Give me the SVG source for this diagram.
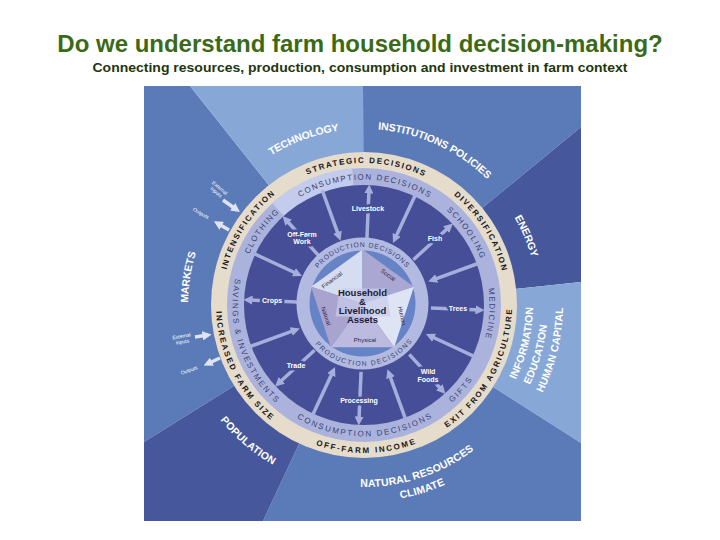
<svg xmlns="http://www.w3.org/2000/svg" width="720" height="540" viewBox="0 0 720 540">
<style>
text { font-family: "Liberation Sans", Arial, sans-serif; }
.title { font-size: 24px; font-weight: bold; fill: #3b6a17; }
.sub { font-size: 12.5px; font-weight: bold; fill: #22360e; }
.mid { fill: #5b7ab8; }
.light { fill: #87a7d6; }
.dark { fill: #46579b; }
.outer { font-size: 10.5px; font-weight: bold; fill: #ffffff; dominant-baseline: central; }
.beige { font-size: 8px; font-weight: bold; fill: #161616; letter-spacing: 1.7px; dominant-baseline: central; }
.cons { font-size: 8px; fill: #3a4274; letter-spacing: 1.6px; dominant-baseline: central; }
.prod { font-size: 6.8px; fill: #3a4274; letter-spacing: 1.1px; dominant-baseline: central; }
.lbl { font-size: 7px; font-weight: bold; fill: #ffffff; text-anchor: middle; stroke: #454e96; stroke-width: 5px; stroke-linejoin: round; paint-order: stroke; }
.asset { font-size: 6px; fill: #27284a; text-anchor: middle; dominant-baseline: central; }
.hh { font-size: 9.5px; font-weight: bold; fill: #1c1c34; text-anchor: middle; }
.tiny { font-size: 5px; fill: #ffffff; text-anchor: middle; }
.spoke { stroke: #a6aedb; stroke-width: 3.5; fill: none; marker-end: url(#ah); }
.ext { stroke: #dfe3f3; stroke-width: 3.5; fill: none; marker-end: url(#ahw); }
</style>
<defs>
  <marker id="ah" viewBox="0 0 10 10" refX="6" refY="5" markerWidth="2.6" markerHeight="2.6" orient="auto" markerUnits="strokeWidth"><path d="M0,0 L10,5 L0,10 z" fill="#a6aedb"/></marker>
  <marker id="ahw" viewBox="0 0 10 10" refX="6" refY="5" markerWidth="2.6" markerHeight="2.6" orient="auto" markerUnits="strokeWidth"><path d="M0,0 L10,5 L0,10 z" fill="#dfe3f3"/></marker>
  <path id="p-strat" d="M239.7,230.3 A145,145 0 0 1 490.8,234.7"/>
  <path id="p-div" d="M396.6,163.7 A145,145 0 0 1 505.3,337.6"/>
  <path id="p-int" d="M222.2,335.1 A145,145 0 0 1 333.9,163.2"/>
  <path id="p-inc" d="M226.1,260.2 A145,145 0 0 0 319.2,442.9"/>
  <path id="p-off" d="M263.3,409.3 A145,145 0 0 0 468.3,405.7"/>
  <path id="p-exit" d="M392.9,447.1 A145,145 0 0 0 498.9,251.9"/>
  <path id="c-top" d="M253.3,239.8 A128.5,128.5 0 0 1 475.8,241.7"/>
  <path id="c-clo" d="M236.2,291.6 A128.5,128.5 0 0 1 311.7,187.6"/>
  <path id="c-sch" d="M418.3,188.5 A128.5,128.5 0 0 1 492.0,293.8"/>
  <path id="c-med" d="M479.5,248.7 A128.5,128.5 0 0 1 470.5,376.9"/>
  <path id="c-gif" d="M416.3,422.4 A128.5,128.5 0 0 0 487.5,340.4"/>
  <path id="c-bot" d="M253.3,370.2 A128.5,128.5 0 0 0 475.8,368.3"/>
  <path id="c-sav" d="M254.4,237.9 A128.5,128.5 0 0 0 316.9,424.6"/>
  <path id="pr-top" d="M305.4,294.7 A59.5,59.5 0 0 1 422.6,294.7"/>
  <path id="pr-bot" d="M305.8,317.4 A59.5,59.5 0 0 0 422.9,313.3"/>
  <path id="o-tech" d="M208.1,215 A180,180 0 0 1 425.6,135.9"/>
  <path id="o-inst" d="M315.9,131.6 A180,180 0 0 1 526.5,227.5"/>
  <path id="o-energy" d="M483.1,172.7 A178,178 0 0 1 541.9,311.2"/>
  <path id="o-mark" d="M191.0,354.6 A180,180 0 0 1 214.8,204.3"/>
  <path id="o-pop" d="M194.3,365.1 A180,180 0 0 0 331.2,482.0"/>
  <path id="o-nat" d="M297.3,470.0 A178,178 0 0 0 514.9,399.3"/>
  <path id="o-clim" d="M322.2,493.4 A193,193 0 0 0 506.3,435.4"/>
  <path id="o-info" d="M473.3,428.6 A165,165 0 0 0 517.5,244.5"/>
  <path id="o-edu" d="M477.3,444.9 A180,180 0 0 0 534.2,246.4"/>
  <path id="o-hum" d="M493.2,451.1 A195,195 0 0 0 545.4,233.5"/>
</defs>

<rect x="0" y="0" width="720" height="540" fill="#ffffff"/>

<g id="title">
  <text class="title" x="360" y="52" text-anchor="middle">Do we understand farm household decision-making?</text>
  <text class="sub" x="360" y="72" text-anchor="middle" textLength="535" lengthAdjust="spacingAndGlyphs">Connecting resources, production, consumption and investment in farm context</text>
</g>

<g id="context-wedges">
  <polygon class="mid" points="364,305 144,442 144,86 190,86"/>
  <polygon class="light" points="364,305 190,86 363,86"/>
  <polygon class="mid" points="364,305 363,86 581,86 581,127"/>
  <polygon class="dark" points="364,305 581,127 581,282"/>
  <polygon class="light" points="364,305 581,282 581,443"/>
  <polygon class="mid" points="364,305 581,443 581,521 263,521"/>
  <polygon class="dark" points="364,305 263,521 144,521 144,442"/>
</g>

<g id="context-labels">
  <g id="technology"><text class="outer" text-anchor="middle"><textPath href="#o-tech" startOffset="50%">TECHNOLOGY</textPath></text></g>
  <g id="institutions"><text class="outer" text-anchor="middle"><textPath href="#o-inst" startOffset="50%">INSTITUTIONS POLICIES</textPath></text></g>
  <g id="energy"><text class="outer" text-anchor="middle"><textPath href="#o-energy" startOffset="50%">ENERGY</textPath></text></g>
  <g id="markets"><text class="outer" text-anchor="middle"><textPath href="#o-mark" startOffset="50%">MARKETS</textPath></text></g>
  <g id="population"><text class="outer" text-anchor="middle"><textPath href="#o-pop" startOffset="50%">POPULATION</textPath></text></g>
  <g id="natural-resources">
    <text class="outer" text-anchor="middle"><textPath href="#o-nat" startOffset="50%">NATURAL RESOURCES</textPath></text>
    <text class="outer" text-anchor="middle"><textPath href="#o-clim" startOffset="50%">CLIMATE</textPath></text>
  </g>
  <g id="information">
    <text class="outer" text-anchor="middle"><textPath href="#o-info" startOffset="50%">INFORMATION</textPath></text>
    <text class="outer" text-anchor="middle"><textPath href="#o-edu" startOffset="50%">EDUCATION</textPath></text>
    <text class="outer" text-anchor="middle"><textPath href="#o-hum" startOffset="50%">HUMAN CAPITAL</textPath></text>
  </g>
</g>

<g id="strategic-ring">
  <circle cx="364" cy="305" r="153" fill="#e6dccc"/>
  <text class="beige" text-anchor="middle"><textPath href="#p-strat" startOffset="50%">STRATEGIC DECISIONS</textPath></text>
  <text class="beige" text-anchor="middle"><textPath href="#p-div" startOffset="50%">DIVERSIFICATION</textPath></text>
  <text class="beige" text-anchor="middle"><textPath href="#p-int" startOffset="50%">INTENSIFICATION</textPath></text>
  <text class="beige" text-anchor="middle"><textPath href="#p-inc" startOffset="50%">INCREASED FARM SIZE</textPath></text>
  <text class="beige" text-anchor="middle"><textPath href="#p-off" startOffset="50%">OFF-FARM INCOME</textPath></text>
  <text class="beige" text-anchor="middle"><textPath href="#p-exit" startOffset="50%">EXIT FROM AGRICULTURE</textPath></text>
</g>

<g id="consumption-ring">
  <circle cx="364" cy="305" r="137" fill="#abb3dc"/>
  <path d="M272.3,203.2 A137,137 0 0 1 352.1,168.5 L353.5,185.5 A120,120 0 0 0 283.7,215.8 Z" fill="#c3cced"/>
  <text class="cons" text-anchor="middle"><textPath href="#c-top" startOffset="50%">CONSUMPTION DECISIONS</textPath></text>
  <text class="cons" text-anchor="middle"><textPath href="#c-clo" startOffset="50%">CLOTHING</textPath></text>
  <text class="cons" text-anchor="middle"><textPath href="#c-sch" startOffset="50%">SCHOOLING</textPath></text>
  <text class="cons" text-anchor="middle"><textPath href="#c-med" startOffset="50%">MEDICINE</textPath></text>
  <text class="cons" text-anchor="middle"><textPath href="#c-gif" startOffset="50%">GIFTS</textPath></text>
  <text class="cons" text-anchor="middle"><textPath href="#c-bot" startOffset="50%">CONSUMPTION DECISIONS</textPath></text>
  <text class="cons" text-anchor="middle"><textPath href="#c-sav" startOffset="50%">SAVINGS &amp; INVESTMENTS</textPath></text>
  <circle cx="364" cy="305" r="120" fill="#454e96"/>
</g>

<g id="connectors">
  <g transform="rotate(2.5 364 305)">
    <line class="spoke" x1="431" y1="305" x2="481" y2="305"/>
    <line class="spoke" x1="411.4" y1="352.4" x2="446.7" y2="387.7"/>
    <line class="spoke" x1="364" y1="372" x2="364" y2="422"/>
    <line class="spoke" x1="316.6" y1="352.4" x2="281.3" y2="387.7"/>
    <line class="spoke" x1="297" y1="305" x2="247" y2="305"/>
    <line class="spoke" x1="316.6" y1="257.6" x2="281.3" y2="222.3"/>
    <line class="spoke" x1="364" y1="238" x2="364" y2="188"/>
    <line class="spoke" x1="411.4" y1="257.6" x2="446.7" y2="222.3"/>
    <line class="spoke" x1="476.7" y1="351.7" x2="430.5" y2="332.6"/>
    <line class="spoke" x1="410.7" y1="417.7" x2="391.6" y2="371.5"/>
    <line class="spoke" x1="317.3" y1="417.7" x2="336.4" y2="371.5"/>
    <line class="spoke" x1="251.3" y1="351.7" x2="297.5" y2="332.6"/>
    <line class="spoke" x1="251.3" y1="258.3" x2="297.5" y2="277.4"/>
    <line class="spoke" x1="317.3" y1="192.3" x2="336.4" y2="238.5"/>
    <line class="spoke" x1="410.7" y1="192.3" x2="391.6" y2="238.5"/>
    <line class="spoke" x1="476.7" y1="258.3" x2="430.5" y2="277.4"/>
  </g>
  <line class="ext" x1="223" y1="200" x2="237" y2="210"/>
  <line class="ext" x1="229" y1="230" x2="217" y2="223"/>
  <line class="ext" x1="195" y1="337" x2="208" y2="335"/>
  <line class="ext" x1="220" y1="358" x2="207" y2="364"/>
</g>

<g id="flow-labels">
  <g id="livestock"><text class="lbl" x="368" y="210.5">Livestock</text></g>
  <g id="fish"><text class="lbl" x="435" y="240.5">Fish</text></g>
  <g id="trees"><text class="lbl" x="458" y="310.5">Trees</text></g>
  <g id="wild-foods"><text class="lbl" x="428" y="374">Wild</text><text class="lbl" x="428" y="381.5">Foods</text></g>
  <g id="processing"><text class="lbl" x="359" y="402.5">Processing</text></g>
  <g id="trade"><text class="lbl" x="296" y="367.5">Trade</text></g>
  <g id="crops"><text class="lbl" x="272" y="302.5">Crops</text></g>
  <g id="off-farm-work"><text class="lbl" x="302" y="236.5">Off-Farm</text><text class="lbl" x="302" y="243.5">Work</text></g>
  <g id="ext-in-top" transform="translate(218,190) rotate(40)"><text class="tiny" x="0" y="-1">External</text><text class="tiny" x="0" y="4.5">Inputs</text></g>
  <g id="out-top" transform="translate(201,213) rotate(30)"><text class="tiny" x="0" y="2">Outputs</text></g>
  <g id="ext-in-bottom" transform="translate(182,339) rotate(-10)"><text class="tiny" x="0" y="-1">External</text><text class="tiny" x="0" y="4.5">inputs</text></g>
  <g id="out-bottom" transform="translate(189,370) rotate(-20)"><text class="tiny" x="0" y="2">Outputs</text></g>
</g>

<g id="household-assets" transform="translate(-1.5,-1.5)">
  <circle cx="364" cy="305" r="66" fill="#b2bae1"/>
  <text class="prod" text-anchor="middle"><textPath href="#pr-top" startOffset="50%">PRODUCTION DECISIONS</textPath></text>
  <text class="prod" text-anchor="middle"><textPath href="#pr-bot" startOffset="50%">PRODUCTION DECISIONS</textPath></text>
  <circle cx="364" cy="305" r="53" fill="#6683c5"/>
  <polygon points="364,305 312.6,288.3 364,251" fill="#d6ddf1"/>
  <polygon points="364,305 364,251 415.4,288.3" fill="#aaa8d3"/>
  <polygon points="364,305 415.4,288.3 395.7,348.7" fill="#dfe4f5"/>
  <polygon points="364,305 395.7,348.7 332.3,348.7" fill="#bcbbdf"/>
  <polygon points="364,305 332.3,348.7 312.6,288.3" fill="#a8a3cf"/>
  <polygon points="341,290 388,290 392,318 337,318" fill="#c9cce9" opacity="0.7"/>
  <text class="asset" transform="translate(333.5,281.5) rotate(-36)">Financial</text>
  <text class="asset" transform="translate(389.5,276.5) rotate(36)">Social</text>
  <text class="asset" transform="translate(403.5,317.5) rotate(78)">Human</text>
  <text class="asset" transform="translate(366.5,341)">Physical</text>
  <text class="asset" transform="translate(327.5,317.5) rotate(72)">Natural</text>
  <text class="hh" x="364" y="297">Household</text>
  <text class="hh" x="364" y="306">&amp;</text>
  <text class="hh" x="364" y="315">Livelihood</text>
  <text class="hh" x="364" y="324">Assets</text>
</g>
</svg>
